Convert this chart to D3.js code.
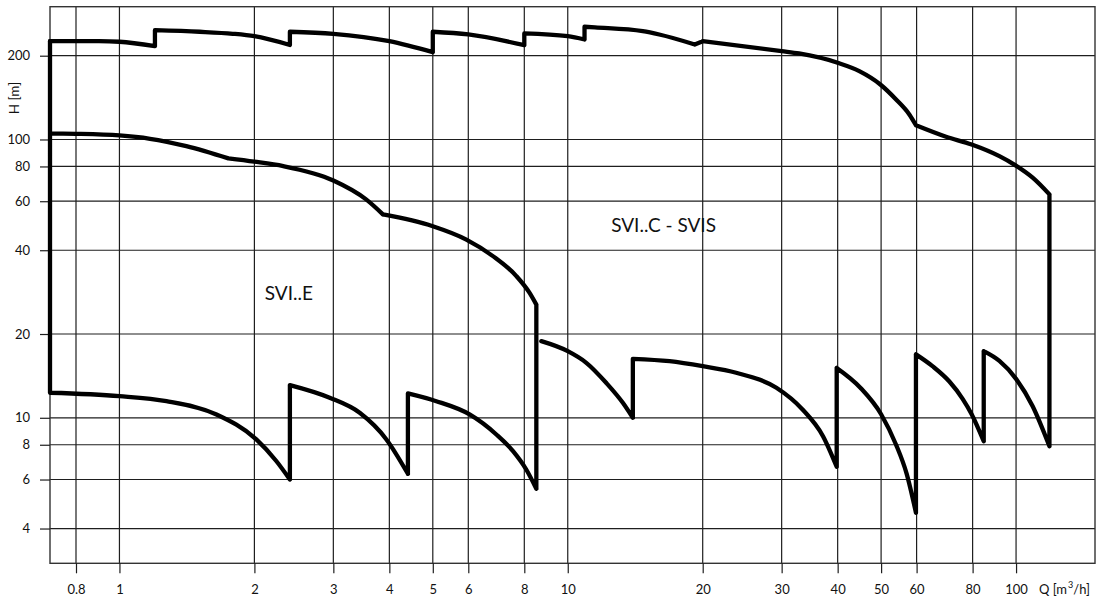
<!DOCTYPE html>
<html>
<head>
<meta charset="utf-8">
<script src="https://cdn.jsdelivr.net/npm/d3@7"></script>
<style>
  html, body { margin: 0; padding: 0; background: #fff; }
  svg { display: block; }
  text { font-family: Lato, "Open Sans", sans-serif; fill: #111; }
</style>
</head>
<body>
<svg id="chart" width="1096" height="597"></svg>
<script>
// ---- Data (Q in m3/h, H in m) ----
const xTicks = [0.8, 1, 2, 3, 4, 5, 6, 8, 10, 20, 30, 40, 50, 60, 80, 100];
const yTicks = [4, 6, 8, 10, 20, 40, 60, 80, 100, 200];

// SVI..E envelope: smooth pieces (in drawing order), joined by straight segments
const sviE = [
  [[0.7, 105.1], [0.8, 104.8], [1.0, 103.4], [1.17, 100.6], [1.41, 94.6], [1.75, 85.5]],
  [[1.75, 85.5], [2.0, 83.2], [2.32, 80.2], [3.0, 71.2], [3.55, 60.9], [3.87, 53.8]],
  [[3.87, 53.8], [5.0, 48.8], [5.94, 43.7], [6.81, 38.1], [7.68, 32.3], [8.22, 28.1], [8.51, 25.5]],
  [[8.51, 5.56], [8.08, 6.52], [7.55, 7.59], [6.93, 8.71], [6.04, 10.28], [5.09, 11.47], [4.4, 12.23]],
  [[4.4, 6.29], [3.94, 8.36], [3.435, 10.42], [2.944, 11.8], [2.4, 13.1]],
  [[2.4, 6.0], [2.24, 6.98], [2.02, 8.36], [1.646, 10.28], [1.273, 11.47], [1.0, 11.96], [0.7, 12.3]],
  [[0.7, 225.5]]
];

// SVI..C - SVIS envelope
const sviC = [
  [[0.7, 225.5], [0.9, 225.5], [1.0, 224.5], [1.2, 216.5]],
  [[1.2, 247], [1.51, 243.8], [1.79, 239.8], [2.0, 235], [2.4, 218.5]],
  [[2.4, 243.8], [3.0, 239.8], [4.0, 225.5], [5.0, 205.9]],
  [[5.0, 243.8], [6.0, 238.4], [8.0, 218.2]],
  [[8.0, 240.4], [10.0, 235.0], [10.9, 228.7]],
  [[10.9, 254.1], [11.5, 252.7], [14.7, 245.0], [16.0, 238.4], [19.2, 219.5]],
  [[20.0, 225.5], [30, 207.7], [32.8, 203.7], [40, 188.6], [44.7, 176], [49.8, 157.6], [54, 139.2], [57.8, 123], [59.8, 112.5]],
  [[59.8, 112.5], [69.8, 102.3], [79.6, 95.9], [91.8, 87.1], [99.5, 80.9], [108.9, 72.9], [118.7, 63.5]],
  [[118.7, 7.9], [108.9, 11.0], [100, 13.8], [91.8, 16.0], [84.7, 17.35]],
  [[84.7, 8.24], [79.6, 10.3], [76.0, 11.7], [71.0, 13.5], [65.2, 15.3], [59.8, 16.9]],
  [[59.8, 4.56], [57.0, 6.3], [54.0, 8.0], [50.0, 10.3], [45.0, 12.8], [39.8, 15.1]],
  [[39.8, 6.67], [37.1, 8.59], [33.4, 10.71], [29.2, 12.82], [23.75, 14.51], [20.0, 15.32], [16.87, 15.97], [13.97, 16.29]],
  [[13.97, 10.0], [13.27, 11.32], [12.18, 13.36], [11.0, 15.76], [10.0, 17.35], [8.73, 18.85]]
];

const labels = [
  { text: "SVI..E", q: 2.11, h: 27.5 },
  { text: "SVI..C - SVIS", q: 12.5, h: 48.3 }
];

// ---- Layout ----
const svg = d3.select("#chart");
const mLeft = 50, mRight = 1095, mTop = 6.7, mBottom = 563.3;

const x = d3.scaleLog().domain([0.7, 150]).range([mLeft, mRight]);
const y = d3.scaleLog().domain([3, 300]).range([mBottom, mTop]);

// grid
const grid = svg.append("g").attr("stroke", "#1e1e1e").attr("stroke-width", 1.2);
grid.selectAll("line.v").data(xTicks).join("line").attr("class", "v")
  .attr("x1", d => x(d)).attr("x2", d => x(d))
  .attr("y1", mTop).attr("y2", mBottom);
grid.selectAll("line.h").data(yTicks).join("line").attr("class", "h")
  .attr("y1", d => y(d)).attr("y2", d => y(d))
  .attr("x1", mLeft).attr("x2", mRight);

// frame
svg.append("rect")
  .attr("x", mLeft).attr("y", mTop)
  .attr("width", mRight - mLeft).attr("height", mBottom - mTop)
  .attr("fill", "none").attr("stroke", "#333").attr("stroke-width", 1.4);

// axes
const fmt = d => String(d);
const xAxis = svg.append("g").attr("transform", `translate(0,${mBottom})`)
  .call(d3.axisBottom(x).tickValues(xTicks).tickFormat(fmt).tickSize(10).tickPadding(11));
const yAxis = svg.append("g").attr("transform", `translate(${mLeft},0)`)
  .call(d3.axisLeft(y).tickValues(yTicks).tickFormat(fmt).tickSize(10).tickPadding(10));
[xAxis, yAxis].forEach(a => {
  a.select(".domain").remove();
  a.selectAll(".tick line").attr("stroke", "#1e1e1e").attr("stroke-width", 1.2);
  a.selectAll(".tick text").attr("font-family", "Lato, 'Open Sans', sans-serif")
    .attr("font-size", 13).attr("fill", "#111");
});

// axis titles
svg.append("text")
  .attr("transform", `translate(19,98) rotate(-90)`)
  .attr("text-anchor", "middle").attr("font-size", 13.5)
  .text("H [m]");
const qt = svg.append("text").attr("x", 1039).attr("y", 593.5).attr("font-size", 13);
qt.append("tspan").text("Q [m");
qt.append("tspan").attr("font-size", 9).attr("dy", -6).attr("dx", 1).text("3");
qt.append("tspan").attr("dy", 6).text("/h]");

// curves: each smooth piece drawn monotone in x, pieces joined by straight segments
const seg = d3.line().x(d => x(d[0])).y(d => y(d[1])).curve(d3.curveMonotoneX);
function buildPath(pieces) {
  let d = "";
  pieces.forEach((p, i) => {
    if (p.length > 1) d += seg(p.slice().sort((a, b) => a[0] - b[0]));
    if (i > 0) {
      const a = pieces[i - 1][pieces[i - 1].length - 1], b = p[0];
      d += "M" + x(a[0]) + "," + y(a[1]) + "L" + x(b[0]) + "," + y(b[1]);
    }
  });
  return d;
}
svg.selectAll("path.curve").data([sviE, sviC]).join("path")
  .attr("class", "curve")
  .attr("d", buildPath)
  .attr("fill", "none").attr("stroke", "#000").attr("stroke-width", 4.3)
  .attr("stroke-linejoin", "round").attr("stroke-linecap", "round");

// series labels
svg.selectAll("text.lbl").data(labels).join("text")
  .attr("class", "lbl")
  .attr("x", d => x(d.q)).attr("y", d => y(d.h))
  .attr("font-size", 19).attr("dominant-baseline", "middle")
  .text(d => d.text);
</script>
</body>
</html>
